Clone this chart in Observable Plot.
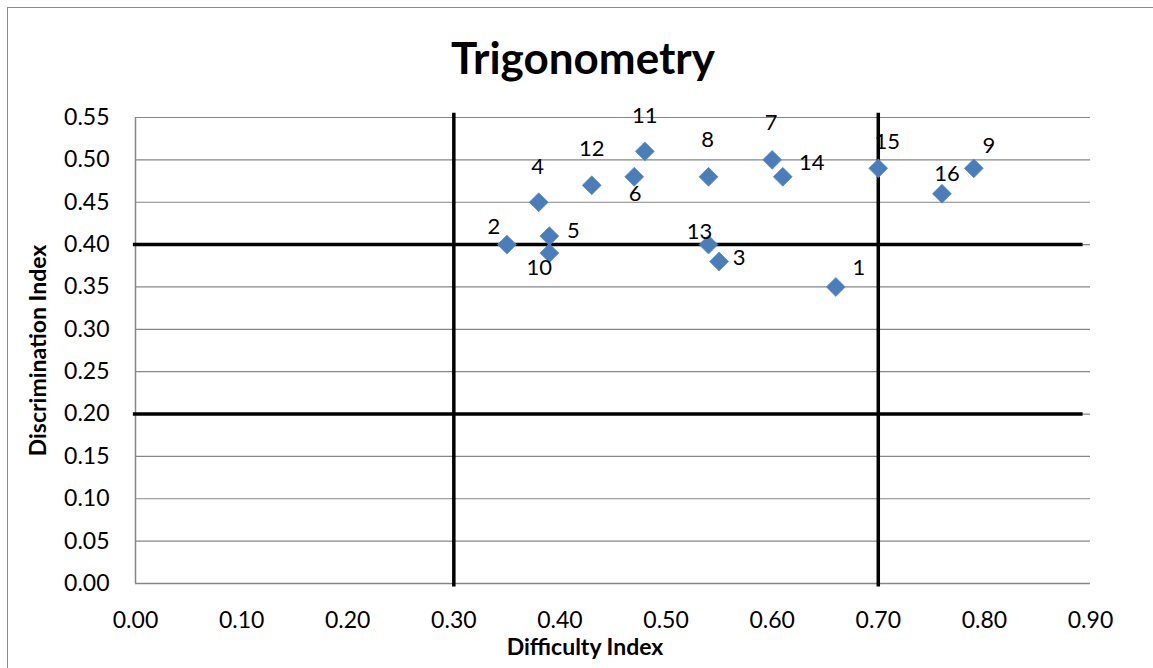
<!DOCTYPE html>
<html>
<head>
<meta charset="utf-8">
<script src="https://cdn.jsdelivr.net/npm/d3@7"></script>
<script src="https://cdn.jsdelivr.net/npm/@observablehq/plot@0.6"></script>
<style>
  html, body { margin: 0; padding: 0; background: #fff; overflow: hidden; }
  #wrap { position: relative; width: 1153px; height: 668px; overflow: hidden; font-family: Lato, "Open Sans", sans-serif; }
  #frame { position: absolute; left: 7px; top: 7px; width: 1170px; height: 700px; border: 1.5px solid #8a8a8a; box-sizing: border-box; }
  #title { position: absolute; left: 0; top: 33px; width: 1166px; text-align: center; font-weight: 700; font-size: 44px; line-height: 48px; color: #000; }
  #chart { position: absolute; left: 0; top: 0; }
</style>
</head>
<body>
<div id="wrap">
  <div id="frame"></div>
  <div id="chart"></div>
  <div id="title">Trigonometry</div>
</div>
<script>
// ---- data ----
const items = [1, 2, 3, 4, 5, 6, 7, 8, 9, 10, 11, 12, 13, 14, 15, 16];
const difficulty = [0.66, 0.35, 0.55, 0.38, 0.39, 0.47, 0.60, 0.54, 0.79, 0.39, 0.48, 0.43, 0.54, 0.61, 0.70, 0.76];
const discrimination = [0.35, 0.40, 0.38, 0.45, 0.41, 0.48, 0.50, 0.48, 0.49, 0.39, 0.51, 0.47, 0.40, 0.48, 0.49, 0.46];
const xTicks = [0, 0.1, 0.2, 0.3, 0.4, 0.5, 0.6, 0.7, 0.8, 0.9];
const yTicks = [0, 0.05, 0.1, 0.15, 0.2, 0.25, 0.3, 0.35, 0.4, 0.45, 0.5, 0.55];
const cutDifficulty = [0.30, 0.70];
const cutDiscrimination = [0.20, 0.40];
const xTitle = "Difficulty Index";
const yTitle = "Discrimination Index";

// ---- layout (label offsets in px, per item) ----
const labelOffset = {
  1: [23, -19], 2: [-13, -18], 3: [20, -4], 4: [-1, -35], 5: [24, -5], 6: [1, 17],
  7: [-1, -37], 8: [-1, -37], 9: [15, -22], 10: [-10, 15], 11: [0, -35], 12: [0, -36],
  13: [-9, -13], 14: [29, -14], 15: [9, -26], 16: [5, -20]
};

const data = items.map((id, i) => ({ id, x: difficulty[i], y: discrimination[i] }));
const fmt = d3.format(".2f");

const labelMarks = data.map(d => Plot.text([d], {
  x: "x", y: "y", text: d => String(d.id),
  dx: labelOffset[d.id][0], dy: labelOffset[d.id][1],
  fontSize: 22, fill: "#000", textAnchor: "middle", lineAnchor: "middle"
}));

const chart = Plot.plot({
  width: 1153,
  height: 668,
  marginLeft: 135,
  marginRight: 63,
  marginTop: 117,
  marginBottom: 85,
  style: { fontFamily: "Lato, 'Open Sans', sans-serif", background: "transparent", overflow: "visible" },
  x: { domain: [0, 0.9] },
  y: { domain: [0, 0.55] },
  marks: [
    Plot.gridY(yTicks, { stroke: "#868686", strokeOpacity: 1, strokeWidth: 1.2 }),
    Plot.ruleX([0], { stroke: "#868686", strokeWidth: 1.5 }),
    Plot.ruleY([0], { stroke: "#868686", strokeWidth: 1.5 }),
    Plot.axisX(xTicks, { tickSize: 0, tickPadding: 28, tickFormat: fmt, fontSize: 23, fill: "#000", label: null }),
    Plot.axisY(yTicks, { tickSize: 0, tickPadding: 26, tickFormat: fmt, fontSize: 23, fill: "#000", label: null }),
    Plot.ruleY(cutDiscrimination, { x1: -0.002, x2: 0.893, stroke: "#000", strokeWidth: 3.5 }),
    Plot.ruleX(cutDifficulty, { y1: -0.004, y2: 0.555, stroke: "#000", strokeWidth: 3.5 }),
    Plot.dot(data, { x: "x", y: "y", symbol: "diamond2", r: 8.5, fill: "#4a7ebb", stroke: "#5b8cc6", strokeWidth: 0.8 }),
    ...labelMarks,
    Plot.text([xTitle], { frameAnchor: "bottom", dx: -28, dy: 64, fontSize: 23, fontWeight: 700, fill: "#000", textAnchor: "middle", lineAnchor: "middle" }),
    Plot.text([yTitle], { frameAnchor: "left", dx: -97, rotate: -90, fontSize: 23, fontWeight: 700, fill: "#000", textAnchor: "middle", lineAnchor: "middle" })
  ]
});
document.getElementById("chart").appendChild(chart);
</script>
</body>
</html>
